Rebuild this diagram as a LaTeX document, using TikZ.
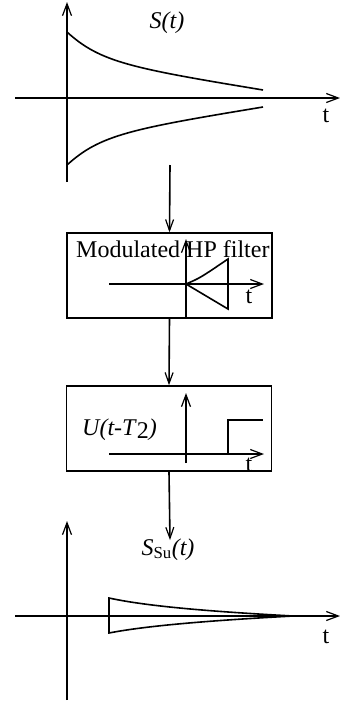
\documentclass[tikz,border=0pt]{standalone}
\usepackage{fontspec}
\setmainfont{Liberation Serif}
\usetikzlibrary{arrows.meta}

\tikzset{
    axis/.style={line width=1.6pt, -{Straight Barb[length=12pt,width=9pt,line width=1.2pt]}},
    flow/.style={line width=1.6pt, -{Straight Barb[length=11pt,width=8pt,line width=1.2pt]}},
    sig/.style={line width=1.6pt},
    blockbox/.style={draw, line width=1.6pt, minimum width=205pt, minimum height=85pt, inner sep=0pt},
    lbl/.style={inner sep=0pt, font=\fontsize{24}{28}\selectfont}
}

\begin{document}
\begin{tikzpicture}[x=1pt, y=-1pt]
    \useasboundingbox (0,0) rectangle (340,705);

    % input signal
    \draw[axis] (67,182) -- (67,2);
    \draw[axis] (15,98) -- (340,98);
    \draw[sig] (67,32) .. controls (100,62) and (130,68) .. (263,90);
    \draw[sig] (67,165) .. controls (100,135) and (130,129) .. (263,107);
    \node[lbl] (sin) at (167,23) {\textit{S(t)}};
    \node[lbl] (tin) at (326,116) {t};

    % filter block
    \node[blockbox] (filt) at (169.5,275.5) {};
    \node[lbl, anchor=base west] (filttxt) at (76,257) {Modulated HP filter};
    \draw[axis] (109,284) -- (264,284);
    \draw[axis] (186,318) -- (186,239);
    \draw[sig] (186,284) .. controls (200,278) .. (228,259) -- (228,309) -- cycle;
    \node[lbl] (tfilt) at (249,297) {t};

    % gate block
    \node[blockbox] (gate) at (169,428.5) {};
    \node[lbl, anchor=base west] (gatetxt) at (82,435)
        {\textit{U(t-T}\raisebox{-0.3ex}{2}\textit{)}};
    \draw[axis] (109,454) -- (264,454);
    \draw[axis] (186,463) -- (186,393);
    \draw[sig] (228,454) -- (228,420) -- (263,420);
    \node[lbl] (tgate) at (249,465) {t};

    % output signal
    \draw[axis] (67,700) -- (67,521);
    \draw[axis] (15,616) -- (340,616);
    \draw[sig] (293,616) .. controls (220,612) and (150,607) .. (109,598)
        -- (109,633) .. controls (150,625) and (220,620) .. (293,616);
    \node[lbl, anchor=base] (sout) at (168,555) {\textit{S}\textsubscript{Su}\textit{(t)}};
    \node[lbl] (tout) at (326,637) {t};

    % connectors
    \coordinate (sigsrc) at (170,165);
    \coordinate (sigdst) at (170,540);
    \draw[flow] (sigsrc) -- (filt.north);
    \draw[flow] (filt.south) -- (gate.north);
    \draw[flow] (gate.south) -- (sigdst);
\end{tikzpicture}
\end{document}
